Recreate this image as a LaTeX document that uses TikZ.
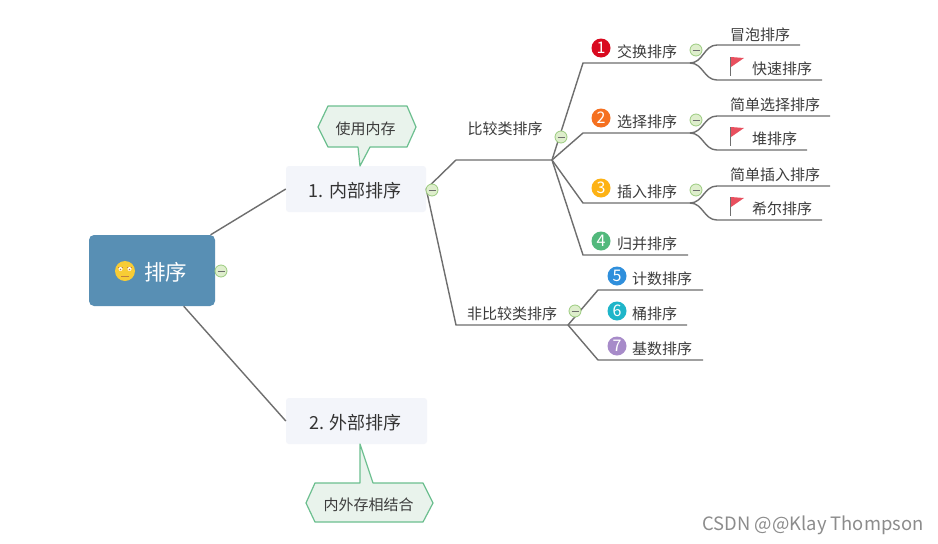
\documentclass[tikz,border=0pt]{standalone}
\usepackage{fontspec}
\setmainfont{Noto Sans CJK SC}
\usepackage{tikz}
\usetikzlibrary{shapes.geometric}
\definecolor{grigioLinea}{RGB}{110, 110, 110}
\definecolor{bluRadice}{RGB}{88, 143, 180}
\definecolor{grigioChiaro}{RGB}{243, 245, 250}
\definecolor{verdeBordo}{RGB}{108, 191, 143}
\definecolor{verdeFondo}{RGB}{233, 243, 236}
\definecolor{testoScuro}{RGB}{60, 60, 60}
\definecolor{rossoBandiera}{RGB}{232, 80, 95}
\definecolor{verdeSegno}{RGB}{156, 204, 128}
\definecolor{verdeTondo}{RGB}{222, 238, 204}
\definecolor{giallino}{RGB}{248, 204, 53}
\definecolor{numUno}{RGB}{217, 9, 31}
\definecolor{numDue}{RGB}{245, 112, 32}
\definecolor{numTre}{RGB}{253, 178, 20}
\definecolor{numQuattro}{RGB}{82, 185, 124}
\definecolor{numCinque}{RGB}{47, 143, 220}
\definecolor{numSei}{RGB}{31, 181, 201}
\definecolor{numSette}{RGB}{167, 139, 201}
\tikzset{
    topicbox/.style={rectangle, rounded corners=3, fill=grigioChiaro, minimum width=140, minimum height=46, text=black!80, font=\fontsize{18}{18}\selectfont},
    leaf/.style={inner sep=0pt, text=testoScuro, font=\fontsize{15}{15}\selectfont},
    badge/.style={circle, minimum size=19, inner sep=0pt, text=white, font=\fontsize{16}{16}\selectfont},
    collapse/.style={circle, draw=verdeSegno, fill=verdeTondo, line width=0.8, minimum size=12, inner sep=0pt,
        path picture={\draw[grigioLinea, line width=0.8] ([xshift=-3.5]path picture bounding box.center) -- ([xshift=3.5]path picture bounding box.center);}},
    link/.style={grigioLinea, line width=1.4},
    callout/.style={draw=verdeBordo, fill=verdeFondo, line width=1.2, line join=round},
    flagicon/.style={rossoBandiera}
}

\begin{document}
\begin{tikzpicture}[x=1pt, y=-1pt]
    \useasboundingbox[fill=white] (0,0) rectangle (938,544);

    % Main topics
    \node[rectangle, rounded corners=5, fill=bluRadice, minimum width=126, minimum height=71, inner sep=0pt] (root) at (152,270.5) {};
    \node[text=white, font=\fontsize{21.5}{22}\selectfont, inner sep=0pt] (rootText) at (165.5,272) {排序};
    \node[topicbox] (inner) at (356,189) {};
    \node[topicbox, text=black!80, minimum width=0pt, minimum height=0pt, fill=none, inner sep=0pt] (innerText) at (355,190.5) {1. 内部排序};
    \node[topicbox, minimum width=141] (outer) at (356.5,421) {};
    \node[topicbox, text=black!80, minimum width=0pt, minimum height=0pt, fill=none, inner sep=0pt] (outerText) at (355.5,423) {2. 外部排序};

    % Coordinates of the branches
    \coordinate (cmpL) at (456,160);
    \coordinate (cmpR) at (552,160);
    \coordinate (nonL) at (456,325);
    \coordinate (nonR) at (568,325);
    \coordinate (swapL) at (583,63);
    \coordinate (swapR) at (690,63);
    \coordinate (selL) at (583,133);
    \coordinate (selR) at (690,133);
    \coordinate (insL) at (583,203);
    \coordinate (insR) at (690,203);
    \coordinate (mrgL) at (583,255);
    \coordinate (mrgR) at (688,255);
    \coordinate (cntL) at (598,290);
    \coordinate (cntR) at (703,290);
    \coordinate (bktR) at (687,325);
    \coordinate (rdxL) at (598,360);
    \coordinate (rdxR) at (703,360);

    % Connectors
    \draw[link] (root) -- (inner.west);
    \draw[link] (root) -- (outer.west);
    \draw[link] (inner.east) -- (cmpL) -- (cmpR);
    \draw[link] (inner.east) -- (nonL) -- (bktR);
    \draw[link] (cmpR) -- (swapL) -- (swapR);
    \draw[link] (cmpR) -- (selL) -- (selR);
    \draw[link] (cmpR) -- (insL) -- (insR);
    \draw[link] (cmpR) -- (mrgL) -- (mrgR);
    \draw[link] (nonR) -- (cntL) -- (cntR);
    \draw[link] (nonR) -- (rdxL) -- (rdxR);

    % Curved leaves
    \draw[link] (swapR) .. controls (703,63) and (704,45) .. (717,45) -- (800,45);
    \draw[link] (swapR) .. controls (703,63) and (704,80) .. (717,80) -- (822,80);
    \draw[link] (selR) .. controls (703,133) and (704,116) .. (717,116) -- (830,116);
    \draw[link] (selR) .. controls (703,133) and (704,150) .. (717,150) -- (807,150);
    \draw[link] (insR) .. controls (703,203) and (704,186) .. (717,186) -- (830,186);
    \draw[link] (insR) .. controls (703,203) and (704,220) .. (717,220) -- (822,220);

    % Callouts
    \draw[callout] (318,127) -- (328,106) -- (407,106) -- (416,127) -- (407,147) -- (370,147) -- (360,166) -- (358,147) -- (328,147) -- cycle;
    \node[leaf] (memIn) at (365.5,128.5) {使用内存};
    \draw[callout] (360,444) -- (373,483) -- (423,483) -- (433,503) -- (423,522) -- (315,522) -- (306,503) -- (315,483) -- (360,483) -- cycle;
    \node[leaf] (memOut) at (368.5,505) {内外存相结合};

    % Face of the root
    \fill[giallino] (125,271) circle (10);
    \draw[brown, line width=0.6] (118,267.5) -- (123,267.5) (127,267.5) -- (132,267.5) (121,276) -- (129,276);
    \fill[white] (120.5,269) circle (2) (129.5,269) circle (2);
    \fill[brown] (120.5,269.5) circle (0.8) (129.5,269.5) circle (0.8);

    % Collapse signs
    \node[collapse] (rootFold) at (221,271) {};
    \node[collapse] (innerFold) at (432,190) {};
    \node[collapse] (cmpFold) at (561,137) {};
    \node[collapse] (nonFold) at (575,311) {};
    \node[collapse] (swapFold) at (696,50) {};
    \node[collapse] (selFold) at (696,120) {};
    \node[collapse] (insFold) at (696,190) {};

    % Labels
    \node[leaf] (cmp) at (505,129) {比较类排序};
    \node[leaf] (non) at (512,314) {非比较类排序};
    \node[badge, fill=numUno] (one) at (601,48) {1};
    \node[leaf] (swap) at (647,51.5) {交换排序};
    \node[badge, fill=numDue] (two) at (601,118) {2};
    \node[leaf] (sel) at (647,121.5) {选择排序};
    \node[badge, fill=numTre] (three) at (601,188) {3};
    \node[leaf] (ins) at (647,191.5) {插入排序};
    \node[badge, fill=numQuattro] (four) at (601,241) {4};
    \node[leaf] (mrg) at (647,244) {归并排序};
    \node[badge, fill=numCinque] (five) at (617,276) {5};
    \node[leaf] (cnt) at (662,279) {计数排序};
    \node[badge, fill=numSei] (six) at (617,311) {6};
    \node[leaf] (bkt) at (654.5,314) {桶排序};
    \node[badge, fill=numSette] (seven) at (617,346) {7};
    \node[leaf] (rdx) at (662,349) {基数排序};
    \node[leaf] (bub) at (760,34.5) {冒泡排序};
    \node[leaf] (qck) at (782,69) {快速排序};
    \node[leaf] (ssl) at (775,104.5) {简单选择排序};
    \node[leaf] (hep) at (774.5,139) {堆排序};
    \node[leaf] (sin) at (775,174.5) {简单插入排序};
    \node[leaf] (shl) at (782,209) {希尔排序};

    % Flags
    \draw[grigioLinea, line width=0.8] (730,57) -- (730,76);
    \fill[flagicon] (731,57) -- (744,58) -- (731,67) -- cycle;
    \draw[grigioLinea, line width=0.8] (730,127) -- (730,146);
    \fill[flagicon] (731,127) -- (744,128) -- (731,137) -- cycle;
    \draw[grigioLinea, line width=0.8] (730,197) -- (730,216);
    \fill[flagicon] (731,197) -- (744,198) -- (731,207) -- cycle;

    % Watermark
    \node[inner sep=0pt, text=black!45, font=\fontsize{18.4}{19}\selectfont] (mark) at (813,525) {CSDN @@Klay Thompson};
\end{tikzpicture}
\end{document}
